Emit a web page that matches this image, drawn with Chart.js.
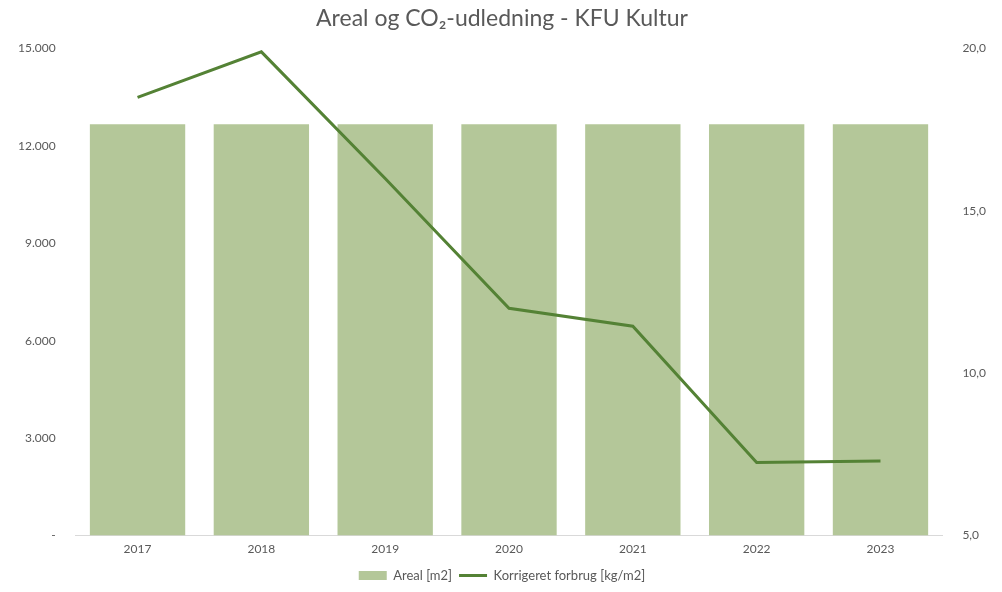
<!DOCTYPE html>
<html>
<head>
<meta charset="utf-8">
<script src="https://cdn.jsdelivr.net/npm/chart.js@4/dist/chart.umd.min.js"></script>
<style>
html, body { margin: 0; padding: 0; background: #fff; }
#wrap { width: 1002px; height: 592px; }
</style>
</head>
<body>
<div id="wrap"><canvas id="chart" width="1002" height="592"></canvas></div>
<script>
var years = ['2017', '2018', '2019', '2020', '2021', '2022', '2023'];
var areal = [12670, 12670, 12670, 12670, 12670, 12670, 12670];
var forbrug = [18.5, 19.9, 16.0, 12.0, 11.45, 7.25, 7.3];

var grey = '#595959';
var font = "Lato, 'Open Sans', sans-serif";

var ctx = document.getElementById('chart');
var chart = new Chart(ctx, {
	type: 'bar',
	data: {
		labels: years,
		datasets: [
			{
				type: 'line',
				label: 'Korrigeret forbrug [kg/m2]',
				data: forbrug,
				borderColor: '#548235',
				backgroundColor: '#548235',
				borderWidth: 3,
				pointRadius: 0,
				pointStyle: 'line',
				tension: 0,
				fill: false,
				yAxisID: 'y2',
				order: 0
			},
			{
				label: 'Areal [m2]',
				data: areal,
				backgroundColor: '#b4c799',
				pointStyle: 'rect',
				barPercentage: 0.77,
				categoryPercentage: 1,
				yAxisID: 'y',
				order: 1
			}
		]
	},
	options: {
		responsive: false,
		animation: false,
		layout: { padding: { left: 6, right: 4, top: 0, bottom: 0 } },
		plugins: {
			title: {
				display: true,
				text: 'Areal og CO₂-udledning - KFU Kultur',
				color: grey,
				font: { family: font, size: 23, weight: 'normal' },
				padding: { top: 5, bottom: 16 }
			},
			legend: {
				position: 'bottom',
				reverse: true,
				labels: {
					color: grey,
					font: { family: font, size: 13 },
					usePointStyle: true,
					pointStyleWidth: 28,
					boxHeight: 9,
					padding: 7
				}
			},
			tooltip: { enabled: false }
		},
		scales: {
			x: {
				grid: { display: false, drawTicks: false },
				border: { color: '#d9d9d9' },
				ticks: { color: grey, font: { family: font, size: 12 }, padding: 6 }
			},
			y: {
				position: 'left',
				min: 0,
				max: 15000,
				grid: { display: false },
				border: { display: false },
				ticks: {
					stepSize: 3000,
					color: grey,
					font: { family: font, size: 12 },
					padding: 12,
					callback: function(v) {
						if (v === 0) return '-';
						return v.toLocaleString('da-DK');
					}
				}
			},
			y2: {
				position: 'right',
				min: 5,
				max: 20,
				grid: { display: false },
				border: { display: false },
				ticks: {
					stepSize: 5,
					color: grey,
					font: { family: font, size: 12 },
					padding: 12,
					callback: function(v) { return v.toFixed(1).replace('.', ','); }
				}
			}
		}
	}
});
</script>
</body>
</html>
